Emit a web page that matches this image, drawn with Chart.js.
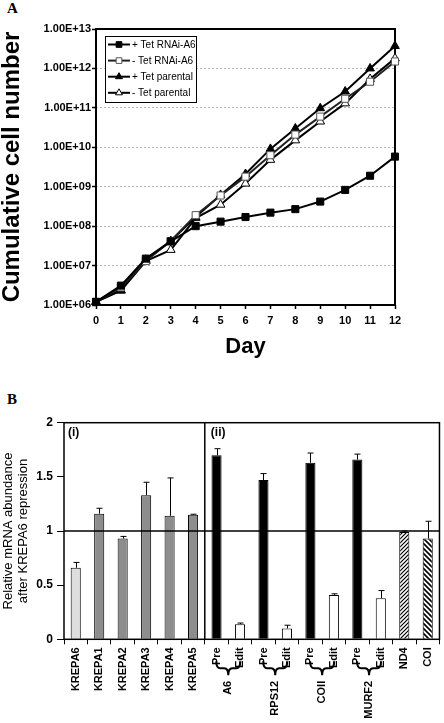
<!DOCTYPE html>
<html><head><meta charset="utf-8">
<script src="https://cdn.jsdelivr.net/npm/chart.js@4/dist/chart.umd.min.js"></script>
<style>
html,body{margin:0;padding:0;background:#fff;width:444px;height:723px;overflow:hidden;position:relative}
#wa{position:absolute;left:0;top:0;width:444px;height:370px}
#wb{position:absolute;left:0;top:375px;width:444px;height:348px}
.pl{position:absolute;font-family:'Liberation Serif',serif;font-weight:bold;font-size:15px;line-height:1;color:#000}
</style></head><body>
<div class="pl" style="left:7px;top:1px">A</div>
<div class="pl" style="left:7px;top:392px">B</div>
<div id="wa"><canvas id="ca" width="444" height="370"></canvas></div>
<div id="wb"><canvas id="cb" width="444" height="348"></canvas></div>
<script>
// ---------- Panel A data ----------
const days = [0,1,2,3,4,5,6,7,8,9,10,11,12];
const plusTetRNAi     = [1.2e6, 3.1e6, 1.5e7, 4.1e7, 1.0e8, 1.3e8, 1.7e8, 2.2e8, 2.7e8, 4.2e8, 8.3e8, 1.9e9, 5.8e9];
const minusTetRNAi    = [1.2e6, 2.8e6, 1.3e7, 4.2e7, 1.9e8, 6.0e8, 1.8e9, 6.3e9, 2.1e10, 6.0e10, 1.7e11, 4.6e11, 1.5e12];
const plusTetParental = [1.2e6, 2.4e6, 1.4e7, 4.2e7, 1.7e8, 6.2e8, 2.1e9, 9.1e9, 3.0e10, 9.8e10, 2.6e11, 1.0e12, 3.7e12];
const minusTetParental= [1.2e6, 2.3e6, 1.3e7, 2.5e7, 1.6e8, 3.5e8, 1.2e9, 4.8e9, 1.5e10, 4.5e10, 1.3e11, 5.4e11, 1.8e12];
const seriesLabels = ['+ Tet RNAi-A6', '- Tet RNAi-A6', '+ Tet parental', '- Tet parental'];
const yTickValuesA = [1e6,1e7,1e8,1e9,1e10,1e11,1e12,1e13];
const yTickLabelsA = ['1.00E+06','1.00E+07','1.00E+08','1.00E+09','1.00E+10','1.00E+11','1.00E+12','1.00E+13'];

// ---------- Panel B data ----------
const barLabels = ['KREPA6','KREPA1','KREPA2','KREPA3','KREPA4','KREPA5','Pre','Edit','Pre','Edit','Pre','Edit','Pre','Edit','ND4','COI'];
const barValues = [0.66, 1.16, 0.93, 1.33, 1.14, 1.15, 1.70, 0.14, 1.47, 0.10, 1.63, 0.41, 1.66, 0.38, 0.99, 0.93];
const barErrors = [0.05, 0.05, 0.02, 0.12, 0.35, 0.005, 0.06, 0.01, 0.06, 0.03, 0.09, 0.01, 0.05, 0.07, 0.01, 0.16];
const groupNames = ['A6','RPS12','COII','MURF2'];
const groupStart = [6, 8, 10, 12];
const yTickValuesB = [0, 0.5, 1, 1.5, 2];
const yTickLabelsB = ['0', '0.5', '1', '1.5', '2'];
const panelLabels = ['(i)', '(ii)'];

Chart.defaults.font.family = "'Liberation Sans', Arial, sans-serif";
Chart.defaults.color = '#000';

const FONT = "'Liberation Sans', Arial, sans-serif";

// ---------- Panel A ----------
const styleA = [
  {pointStyle:'rect', bg:'#000', border:'#000', line:'#000', r:5},
  {pointStyle:'rect', bg:'#fff', border:'#555', line:'#222', r:5},
  {pointStyle:'triangle', bg:'#000', border:'#000', line:'#000', r:5},
  {pointStyle:'triangle', bg:'#fff', border:'#000', line:'#000', r:5}
];
const seriesA = [plusTetRNAi, minusTetRNAi, plusTetParental, minusTetParental];

const frameA = {
  id:'frameA',
  beforeDatasetsDraw(chart){
    const {ctx, chartArea:a} = chart;
    ctx.save(); ctx.strokeStyle='#000'; ctx.lineWidth=2;
    ctx.strokeRect(a.left, a.top, a.right-a.left, a.bottom-a.top);
    ctx.restore();
  }
};
const legendA = {
  id:'legendA',
  afterDraw(chart){
    const {ctx, chartArea:a} = chart;
    const bx = a.left+9, by = a.top+7, bw = 91, bh = 66;
    ctx.save();
    ctx.fillStyle='#fff'; ctx.fillRect(bx,by,bw,bh);
    ctx.strokeStyle='#000'; ctx.lineWidth=1; ctx.strokeRect(bx+0.5,by+0.5,bw,bh);
    chart.data.datasets.forEach((ds,i)=>{
      const y = by + 8.5 + i*16.1;
      ctx.strokeStyle = ds.borderColor; ctx.lineWidth = 2;
      ctx.beginPath(); ctx.moveTo(bx+3,y); ctx.lineTo(bx+25,y); ctx.stroke();
      ctx.fillStyle = ds.pointBackgroundColor; ctx.strokeStyle = ds.pointBorderColor; ctx.lineWidth = 1;
      Chart.helpers.drawPoint(ctx, {pointStyle: ds.pointStyle, rotation:0, borderWidth:1, radius:4}, bx+14, y);
      ctx.fillStyle='#000'; ctx.font = '10px '+FONT; ctx.textBaseline='middle'; ctx.textAlign='left';
      ctx.fillText(ds.label, bx+27, y+0.5);
    });
    ctx.restore();
  }
};

new Chart(document.getElementById('ca'), {
  type:'line',
  data:{
    datasets: seriesA.map((arr,i)=>({
      label: seriesLabels[i],
      data: days.map((d,j)=>({x:d, y:arr[j]})),
      borderColor: styleA[i].line, borderWidth: 2,
      pointStyle: styleA[i].pointStyle, pointRadius: styleA[i].r,
      pointBackgroundColor: styleA[i].bg, pointBorderColor: styleA[i].border, pointBorderWidth: 1,
      tension: 0, clip: false
    }))
  },
  options:{
    responsive:false, animation:false, devicePixelRatio:1,
    layout:{padding:{top:29, right:49, bottom:0, left:0}},
    plugins:{legend:{display:false}, tooltip:{enabled:false}},
    scales:{
      x:{
        type:'linear', min:0, max:12,
        afterBuildTicks(s){ s.ticks = days.map(d=>({value:d})); },
        afterFit(s){ s.height = 65; },
        ticks:{font:{size:11, weight:'bold'}, color:'#000', padding:5, maxRotation:0, autoSkip:false},
        grid:{display:true, drawOnChartArea:false, tickLength:4, tickColor:'#000', tickWidth:1.5},
        border:{display:false},
        title:{display:true, text:'Day', font:{size:22, weight:'bold', lineHeight:1}, color:'#000', padding:{top:0,bottom:12}}
      },
      y:{
        type:'logarithmic', min:1e6, max:1e13,
        afterBuildTicks(s){ s.ticks = yTickValuesA.map(v=>({value:v})); },
        afterFit(s){ s.width = 96; },
        ticks:{callback:(v,i)=>yTickLabelsA[i], font:{size:11, weight:'bold'}, color:'#000', padding:1, autoSkip:false},
        grid:{color:'#b5b5b5', lineWidth:1, tickLength:4, tickColor:'#000', tickWidth:1.5},
        border:{display:false, dash:[2,2]},
        title:{display:true, text:'Cumulative cell number', font:{size:24, weight:'bold', lineHeight:1}, color:'#000', padding:0}
      }
    }
  },
  plugins:[frameA, legendA]
});

// ---------- Panel B ----------
function hatch(size, dir, lw){
  const c = document.createElement('canvas'); c.width = size; c.height = size;
  const g = c.getContext('2d');
  g.fillStyle='#fff'; g.fillRect(0,0,size,size);
  g.strokeStyle='#000'; g.lineWidth=lw; g.beginPath();
  if (dir === '/') {
    g.moveTo(-1,size+1); g.lineTo(size+1,-1);
    g.moveTo(-1,1); g.lineTo(1,-1);
    g.moveTo(size-1,size+1); g.lineTo(size+1,size-1);
  } else {
    g.moveTo(-1,-1); g.lineTo(size+1,size+1);
    g.moveTo(size-1,-1); g.lineTo(size+1,1);
    g.moveTo(-1,size-1); g.lineTo(1,size+1);
  }
  g.stroke();
  return g.createPattern(c,'repeat');
}
const patND4 = hatch(4, '/', 1.2);
const patCOI = hatch(5, '\\', 1.6);
const barFill = barLabels.map((l,i)=>{
  if (i===0) return '#dedede';
  if (i<6) return '#8d8d8d';
  if (l==='Pre') return '#000';
  if (l==='Edit') return '#fff';
  if (l==='ND4') return patND4;
  return patCOI;
});

const annotB = {
  id:'annotB',
  afterDatasetsDraw(chart){
    const {ctx, chartArea:a, scales:{x, y}} = chart;
    const meta = chart.getDatasetMeta(0);
    ctx.save();
    ctx.strokeStyle='#000'; ctx.lineWidth=1;
    meta.data.forEach((bar,i)=>{
      const yt = y.getPixelForValue(barValues[i]+barErrors[i]);
      const yb = y.getPixelForValue(barValues[i]);
      const xc = Math.round(bar.x)+0.5;
      ctx.beginPath(); ctx.moveTo(xc,yb); ctx.lineTo(xc,yt);
      ctx.moveTo(xc-3,yt); ctx.lineTo(xc+3,yt); ctx.stroke();
    });
    const y1 = y.getPixelForValue(1);
    ctx.lineWidth=1.5;
    ctx.beginPath(); ctx.moveTo(a.left,y1); ctx.lineTo(a.right,y1); ctx.stroke();
    const xd = (x.getPixelForValue(5)+x.getPixelForValue(6))/2;
    ctx.beginPath(); ctx.moveTo(xd,a.top); ctx.lineTo(xd,a.bottom); ctx.stroke();
    ctx.strokeRect(a.left,a.top,a.right-a.left,a.bottom-a.top);
    ctx.fillStyle='#000'; ctx.font='bold 12px '+FONT; ctx.textBaseline='middle'; ctx.textAlign='left';
    ctx.fillText(panelLabels[0], a.left+4, a.top+9.5);
    ctx.fillText(panelLabels[1], xd+6, a.top+9.5);
    ctx.restore();
  },
  afterDraw(chart){
    const {ctx, chartArea:a, scales:{x}} = chart;
    ctx.save();
    ctx.strokeStyle='#000'; ctx.lineWidth=2; ctx.fillStyle='#000';
    groupNames.forEach((name,g)=>{
      const xp = x.getPixelForValue(groupStart[g]);
      const xe = x.getPixelForValue(groupStart[g]+1);
      const xm = (xp+xe)/2;
      const x1 = xm-12, x2 = xm+12;
      const y0 = a.bottom+22, h = 14, ym = y0+h/2, r = 4;
      ctx.beginPath();
      ctx.moveTo(x1,y0);
      ctx.quadraticCurveTo(x1,ym,x1+r,ym);
      ctx.lineTo(xm-r,ym);
      ctx.quadraticCurveTo(xm,ym,xm,y0+h);
      ctx.quadraticCurveTo(xm,ym,xm+r,ym);
      ctx.lineTo(x2-r,ym);
      ctx.quadraticCurveTo(x2,ym,x2,y0);
      ctx.stroke();
      ctx.save();
      ctx.translate(xm, a.bottom+41.5);
      ctx.rotate(-Math.PI/2);
      ctx.font='bold 11px '+FONT; ctx.textAlign='right'; ctx.textBaseline='middle';
      ctx.fillText(name,0,0);
      ctx.restore();
    });
    ctx.restore();
  }
};

new Chart(document.getElementById('cb'), {
  type:'bar',
  data:{
    labels: barLabels,
    datasets:[{
      data: barValues,
      backgroundColor: barFill,
      borderColor:'#000', borderWidth:1,
      barPercentage:0.43, categoryPercentage:1
    }]
  },
  options:{
    responsive:false, animation:false, devicePixelRatio:1,
    layout:{padding:{top:47.7, right:2, bottom:0, left:0}},
    plugins:{legend:{display:false}, tooltip:{enabled:false}},
    scales:{
      x:{
        type:'category', offset:true,
        afterFit(s){ s.height = 83.7; },
        ticks:{font:{size:11, weight:'bold'}, color:'#000', maxRotation:90, minRotation:90, padding:3, autoSkip:false},
        grid:{offset:true, drawOnChartArea:false, tickLength:5, tickColor:'#000'},
        border:{display:false}
      },
      y:{
        min:0, max:2,
        afterBuildTicks(s){ s.ticks = yTickValuesB.map(v=>({value:v})); },
        afterFit(s){ s.width = 64; },
        ticks:{callback:(v,i)=>yTickLabelsB[i], font:{size:12, weight:'bold'}, color:'#000', padding:4},
        grid:{drawOnChartArea:false, tickLength:7, tickColor:'#000'},
        border:{display:false},
        title:{display:true, text:['Relative mRNA abundance','after KREPA6 repression'], font:{size:13, lineHeight:1.15}, color:'#000', padding:{top:1,bottom:0}}
      }
    }
  },
  plugins:[annotB]
});
</script>
</body></html>
